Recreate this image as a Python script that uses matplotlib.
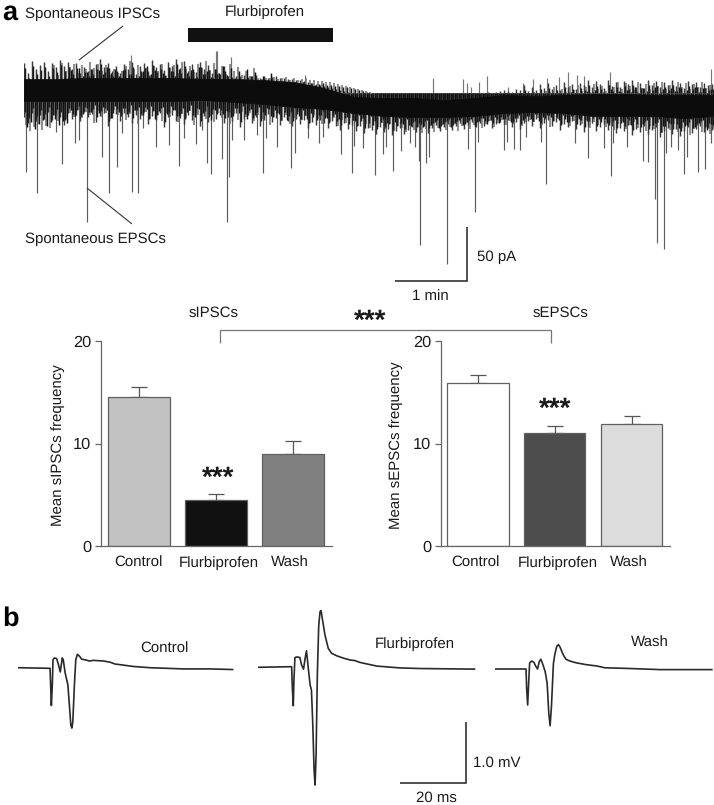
import numpy as np
import matplotlib
matplotlib.use("Agg")
import matplotlib.pyplot as plt

plt.rcParams['font.family'] = ['Liberation Sans', 'DejaVu Sans']
plt.rcParams['text.hinting'] = 'no_hinting'

W, H = 714, 805

# ---------- panel a: continuous recording ----------
core_t = [0,30,60,90,120,150,180,210,240,270,300,330,360,390,420,450,480,510,540,570,600,630,660,690]
core_top = [14,14,15,15,15,15,14,14,13,11,5,-4,-5,-5,-7,-5,-2,-3,-2,-1,-1,-2,-2,-2]
core_bot = [-8,-8,-8,-8,-8,-8,-7,-9,-11,-14,-16,-20,-23,-24,-24,-23,-20,-19,-20,-23,-23,-23,-25,-23]

fringe_top = [30,20,32,24,28,31,22,30,26,33,27,31,24,30,20,26,22,24,29,34,26,30,22,27,20,29,24,31,19,27,30,22,33,26,29,23,31,27,34,25,32,22,29,21,31,24,28,20,
              24,19,27,17,16,17,17,18,16,17,18,15,17,15,16,17,15,15,14,14,13,13,12,11,10,9,8,
              7,6,5,4,3,2,1,0,-1,-2,-1,-2,-2,-3,-2,-3,-2,-2,-3,-3,-3,-2,-3,-4,-3,-3,-4,-3,-3,-2,-3,-2,-3,-2,-2,-1,-2,-1,-1,0,0,1,0,1,2,
              3,2,1,4,3,8,2,6,3,9,5,10,4,8,3,11,6,9,4,10,8,13,6,12,9,5,13,7,11,6,12,9,13,6,10,5,13,8,12,6,11,8,13,7,10,5,12,9,11,6,10,8,9]
fringe_bot = [-24,-30,-20,-28,-22,-26,-19,-27,-21,-24,-32,-20,-26,-22,-28,-19,-24,-21,-29,-23,-20,-33,-25,-21,-28,-20,-24,-30,-22,-26,-19,-31,-23,-27,-20,-34,-24,-22,-28,-25,-31,-22,-27,-20,-33,-23,-29,-21,
              -26,-22,-30,-24,-28,-20,-34,-26,-22,-30,-24,-33,-27,-21,-29,-25,-32,-24,-28,-33,-26,-31,-27,-35,-29,-32,-27,
              -30,-35,-28,-33,-37,-30,-36,-32,-38,-33,-40,-35,-37,-41,-34,-39,-36,-42,-38,-35,-41,-37,-34,-39,-36,-33,-40,-35,-32,-38,-34,-31,-37,-33,-30,-36,-32,-29,-34,-30,-33,-28,-35,-31,-29,
              -31,-27,-34,-29,-36,-30,-28,-33,-26,-35,-30,-27,-33,-29,-37,-31,-34,-28,-36,-32,-39,-33,-30,-38,-34,-31,-37,-33,-40,-35,-38,-32,-42,-36,-39,-33,-41,-37,-34,-44,-38,-35,-41,-36,-43,-38,-34,-40,-36,-33,-39,-35,-37]

epsc_t = [2,13,32,38,51,55,63,78,85,93,98,108,114,119,132,145,155,160,172,178,183,187,198,203,205,208,220,239,233,242,253,267,271,284,295,299,317,328,330,
          339,351,359,362,369,377,386,391,396,395,402,405,423,444,451,454,480,483,490,496,502,517,522,551,564,580,587,589,603,619,624,631,633,640,642,647,654,660,663,674,681,687]
epsc_amp = [-79,-100,-39,-71,-50,-47,-129,-64,-100,-74,-40,-99,-100,-35,-54,-52,-73,-45,-51,-37,-70,-81,-66,-129,-84,-47,-47,-80,-42,-45,-54,-75,-60,-45,-50,-44,-61,-80,-53,
            -55,-82,-61,-54,-78,-58,-50,-54,-152,-68,-70,-64,-171,-56,-119,-49,-57,-49,-56,-57,-44,-49,-91,-50,-65,-55,-83,-50,-54,-68,-69,-106,-150,-156,-60,-54,-57,-81,-64,-79,-76,-50]
ipsc_t = [107,192,193,207,281,409,439,443,447,455,463,484,499,509,523,535,544,553,560,586,687]
ipsc_amp = [38,42,42,36,18,15,14,10,6,11,17,6,10,14,15,16,21,18,17,21,24]

# ---------- bars ----------
categories = ['Control', 'Flurbiprofen', 'Wash']
sipsc_mean = [14.5, 4.5, 9.0]
sipsc_err = [1.0, 0.55, 1.2]
sepsc_mean = [15.9, 11.0, 11.9]
sepsc_err = [0.8, 0.7, 0.8]
sipsc_colors = ['#c2c2c2', '#111111', '#808080']
sepsc_colors = ['#ffffff', '#4d4d4d', '#dcdcdc']

# ---------- panel b: evoked responses ----------
ctrl_t = [0,9.8,10.0,10.2,10.5,10.7,11.1,11.8,12.4,12.9,13.5,13.8,14.4,15.2,15.7,16.1,16.4,16.7,17.2,17.6,18.1,18.7,19.4,20.4,21.7,22.9,26.0,28.0,29.5,31.0,35.1,40.1,50.2,58.3,65.1]
ctrl_v = [0,-.01,-.31,-.62,-.26,.13,.16,.15,.04,-.07,.16,.13,-.09,-.28,-.64,-.94,-.99,-.89,-.26,.13,.22,.19,.14,.13,.11,.12,.11,.09,.06,.05,.02,0,-.02,-.02,-.03]
flur_t = [0,10.1,10.3,10.6,10.8,11.1,11.8,12.6,13.1,13.7,14.2,14.6,15.1,15.7,16.1,16.5,16.9,17.2,17.5,17.9,18.3,18.7,19.0,19.4,20.2,21.2,22.2,23.7,25.8,27.8,29.3,30.8,35.9,42.9,49.0,65.5]
flur_v = [0,.01,-.32,-.63,-.21,.16,.17,.16,.04,-.03,.15,.27,.01,-.29,-.37,-.92,-1.68,-1.93,-1.46,-.10,.67,.91,.93,.80,.53,.31,.23,.19,.15,.12,.11,.08,.02,-.01,-.02,-.03]
wash_t = [0,9.4,9.6,9.9,10.2,10.5,11.1,11.8,12.3,12.9,13.4,13.9,14.4,15.2,15.8,16.3,16.7,17.1,17.7,18.1,18.7,19.2,19.7,20.7,21.5,22.7,24.7,27.8,30.8,33.3,39.9,50.0,65.7]
wash_v = [0,0,-.34,-.59,-.23,.10,.13,.11,.05,0,.12,.16,.09,-.04,-.23,-.73,-.93,-.62,.09,.23,.37,.40,.36,.23,.16,.13,.10,.07,.05,.02,.01,-.01,-.01]

fig = plt.figure(figsize=(W / 100, H / 100), dpi=100, facecolor='white')


def box(x0, y0, x1, y1, **kw):
    """Axes from a pixel box, y measured from the top of the figure."""
    return fig.add_axes([x0 / W, 1 - y1 / H, (x1 - x0) / W, (y1 - y0) / H], **kw)


# trace
ax = box(24, 40, 714, 270)
ax.set_xlim(0, 690)
ax.set_ylim(-177, 53)
ax.axis('off')
ftop = np.array(fringe_top)
fbot = np.array(fringe_bot)
ft = np.arange(len(ftop)) * 4
fb = np.arange(len(fbot)) * 4
ax.vlines(ft + 2, 0, np.roll(ftop, 7) - 2, color='#707070', lw=1.1)
ax.vlines(fb + 2, 0, np.roll(fbot, 7) + 2, color='#707070', lw=1.1)
ax.vlines(epsc_t, 0, epsc_amp, color='#5c5c5c', lw=0.85)
ax.vlines(ipsc_t, 0, ipsc_amp, color='#777777', lw=0.85)
ax.vlines(ft, 0, ftop, color='#3a3a3a', lw=1.05)
ax.vlines(fb, 0, fbot, color='#3a3a3a', lw=1.05)
ax.vlines(ft + 1, 0, ftop - 5, color='#1a1a1a', lw=1.05)
ax.vlines(fb + 1, 0, fbot + 5, color='#1a1a1a', lw=1.05)
ax.vlines(ft + 3, 0, np.roll(ftop, 11) - 7, color='#111111', lw=1.05)
ax.vlines(fb + 3, 0, np.roll(fbot, 11) + 7, color='#111111', lw=1.05)
ax.fill_between(core_t, core_bot, core_top, color='#0c0c0c', lw=0.5, zorder=3)


def bars(box_px, centers_lim, means, errs, colors, ylabel, label_pos, label_x):
    a = box(*box_px)
    x = np.arange(len(categories))
    for i in x:
        a.errorbar(i, means[i], yerr=[[0], [errs[i]]], color='#555555', lw=0.9, capsize=5.5,
                   capthick=0.9, zorder=1)
    a.bar(x, means, width=0.80, color=colors, edgecolor='#606060', lw=0.9, zorder=2)
    a.set_xlim(*centers_lim)
    a.set_ylim(0, 20)
    a.set_yticks([0, 10, 20])
    a.set_xticks([])
    for pos, cat in zip(label_pos, categories):
        a.annotate(cat, (pos, 0), xycoords=('data', 'axes fraction'), xytext=(0, -15.2),
                   textcoords='offset points', ha='center', va='baseline',
                   fontsize=10.8, color='#1a1a1a')
    a.tick_params(axis='y', length=4, width=0.9, color='#666666', labelsize=11.8, pad=3, labelcolor='#1a1a1a')
    for s in ('top', 'right'):
        a.spines[s].set_visible(False)
    for s in ('left', 'bottom'):
        a.spines[s].set_color('#666666')
        a.spines[s].set_linewidth(0.9)
    a.set_ylabel(ylabel, fontsize=10.8, color='#1a1a1a')
    a.yaxis.set_label_coords(label_x, 0.49)
    a.patch.set_alpha(0)
    return a


bars((101, 341, 332, 546), (-0.49, 2.5), sipsc_mean, sipsc_err, sipsc_colors, 'Mean sIPSCs frequency',
     [-0.01, 1.03, 1.95], -0.155)
bars((441, 341, 670, 546), (-0.48, 2.5), sepsc_mean, sepsc_err, sepsc_colors, 'Mean sEPSCs frequency',
     [-0.03, 1.04, 1.97], -0.166)

# evoked traces
for x0, base, t, v in [(17.7, 667.7, ctrl_t, ctrl_v), (258.3, 667.3, flur_t, flur_v), (495, 669, wash_t, wash_v)]:
    a = box(x0, base - 61, x0 + 217.8, base + 122)
    a.set_xlim(0, 66)
    a.set_ylim(-2, 1)
    a.axis('off')
    a.plot(t, v, color='#2a2a2a', lw=1.2, solid_joinstyle='round')

# annotations, in figure pixels
an = box(0, 0, W, H)
an.set_xlim(0, W)
an.set_ylim(H, 0)
an.axis('off')
an.patch.set_alpha(0)
tc = '#1a1a1a'


def txt(x, y, s, ha='center', size=10.8, va='center', **kw):
    an.text(x, y, s, ha=ha, va=va, fontsize=size, color=kw.pop('color', tc), **kw)


def ln(xs, ys, c='#333333', lw=0.8):
    an.plot(xs, ys, color=c, lw=lw, solid_capstyle='butt', solid_joinstyle='miter')


txt(2, 20, 'a', ha='left', va='baseline', size=19.5, fontweight='bold', color='black')
txt(2, 626, 'b', ha='left', va='baseline', size=19.5, fontweight='bold', color='black')
txt(25, 14, 'Spontaneous IPSCs', ha='left')
txt(25, 239, 'Spontaneous EPSCs', ha='left')
txt(265, 12, 'Flurbiprofen')
an.add_patch(plt.Rectangle((188, 28), 145, 14, color='#111111', lw=0))
ln([79, 123], [60, 26])
ln([87, 132], [188, 224])

ln([395, 467, 467], [281, 281, 227], c='#222222', lw=1.1)
txt(477, 257, '50 pA', ha='left')
txt(430, 296, '1 min')

txt(214, 313, 'sIPSCs')
txt(560, 313, 'sEPSCs')
ln([220, 220, 551, 551], [343, 330, 330, 343], c='#777777', lw=0.9)
txt(370, 322, '***', size=20, fontweight='bold')
txt(218, 479, '***', size=20, fontweight='bold')
txt(555, 410, '***', size=20, fontweight='bold')

txt(164, 649, 'Control')
txt(415, 644, 'Flurbiprofen')
txt(650, 643, 'Wash')
ln([400, 466, 466], [782.5, 782.5, 722], c='#222222', lw=1.1)
txt(473, 763, '1.0 mV', ha='left')
txt(436, 798, '20 ms')

fig.savefig('out.png', dpi=100, facecolor='white')
